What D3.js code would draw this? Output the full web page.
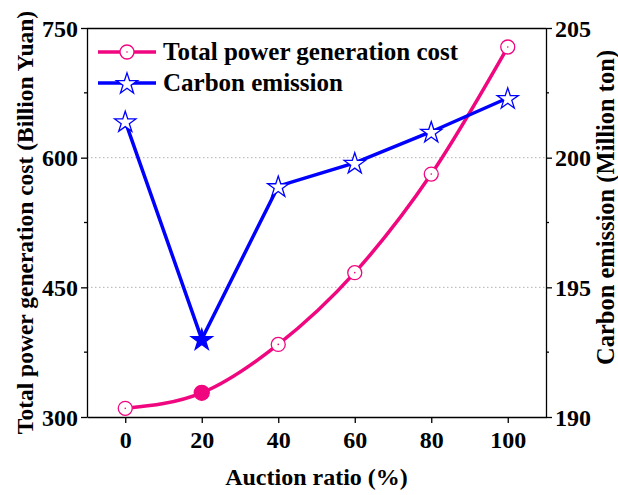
<!DOCTYPE html>
<html>
<head>
<meta charset="utf-8">
<script src="https://cdn.jsdelivr.net/npm/d3@7"></script>
<style>
  html, body { margin: 0; padding: 0; background: #fff; }
  svg { display: block; }
  text { font-family: "Liberation Serif", "Times New Roman", serif; font-weight: bold; fill: #000; }
</style>
</head>
<body>
<svg id="chart" width="618" height="495"></svg>
<script>
// Auction ratio on the x axis (%)
const auctionRatio = [0, 20, 40, 60, 80, 100];
// Total power generation cost (Billion Yuan)
const totalCost = [310, 328, 384, 467, 581, 728];
// Carbon emission (Million ton)
const carbonEmission = [201.4, 193.0, 198.9, 199.8, 201.0, 202.3];
// Index of the highlighted (filled) point in each series
const highlightIndex = 1;

const xTicks = [0, 20, 40, 60, 80, 100];
const leftTicks = [300, 450, 600, 750];
const leftMinor = [375, 525, 675];
const rightTicks = [190, 195, 200, 205];
const rightMinor = [192.5, 197.5, 202.5];

const costColor = "#f0067f";
const carbonColor = "#0000ff";

const svg = d3.select("#chart");
const m = { left: 87, right: 546, top: 28, bottom: 417 };

const x = d3.scaleLinear().domain([-10, 110]).range([m.left, m.right]);
const yL = d3.scaleLinear().domain([300, 750]).range([m.bottom, m.top]);
const yR = d3.scaleLinear().domain([190, 205]).range([m.bottom, m.top]);

// dotted grid lines at the inner major ticks
svg.append("g")
  .selectAll("line")
  .data([450, 600])
  .join("line")
  .attr("x1", m.left).attr("x2", m.right)
  .attr("y1", d => yL(d)).attr("y2", d => yL(d))
  .attr("stroke", "#b0b0b0")
  .attr("stroke-width", 1)
  .attr("stroke-dasharray", "1.5,2.5");

// frame top
svg.append("line")
  .attr("x1", m.left).attr("x2", m.right)
  .attr("y1", m.top + 0.5).attr("y2", m.top + 0.5)
  .attr("stroke", "#000").attr("stroke-width", 1.3);

function styleAxis(g) {
  g.selectAll(".domain").attr("stroke", "#000").attr("stroke-width", 1.3);
  g.selectAll(".tick line").attr("stroke", "#000").attr("stroke-width", 1.3);
  g.selectAll(".tick text").style("font-size", "24px").style("font-weight", "bold")
    .style("font-family", '"Liberation Serif", "Times New Roman", serif');
}

// x axis
const gx = svg.append("g")
  .attr("transform", `translate(0,${m.bottom})`)
  .call(d3.axisBottom(x).tickValues(xTicks).tickSize(6).tickSizeOuter(0).tickPadding(6));
styleAxis(gx);
gx.selectAll(".tick text").attr("dy", "0.8em");

// left axis
const gl = svg.append("g")
  .attr("transform", `translate(${m.left},0)`)
  .call(d3.axisLeft(yL).tickValues(leftTicks).tickSize(6).tickSizeOuter(0).tickPadding(3));
styleAxis(gl);
gl.selectAll(".tick text").attr("dy", "0.34em");
svg.append("g")
  .selectAll("line").data(leftMinor).join("line")
  .attr("x1", m.left - 3).attr("x2", m.left)
  .attr("y1", d => yL(d)).attr("y2", d => yL(d))
  .attr("stroke", "#000").attr("stroke-width", 1.3);

// right axis
const gr = svg.append("g")
  .attr("transform", `translate(${m.right},0)`)
  .call(d3.axisRight(yR).tickValues(rightTicks).tickSize(6).tickSizeOuter(0).tickPadding(3));
styleAxis(gr);
gr.selectAll(".tick text").attr("dy", "0.34em");
svg.append("g")
  .selectAll("line").data(rightMinor).join("line")
  .attr("x1", m.right).attr("x2", m.right + 3)
  .attr("y1", d => yR(d)).attr("y2", d => yR(d))
  .attr("stroke", "#000").attr("stroke-width", 1.3);

// axis titles
svg.append("text")
  .attr("x", (m.left + m.right) / 2).attr("y", 485)
  .attr("text-anchor", "middle")
  .style("font-size", "24px")
  .text("Auction ratio (%)");

svg.append("text")
  .attr("transform", `translate(33,${(m.top + m.bottom) / 2}) rotate(-90)`)
  .attr("text-anchor", "middle")
  .style("font-size", "23.5px")
  .text("Total power generation cost (Billion Yuan)");

svg.append("text")
  .attr("transform", `translate(614,${(m.top + m.bottom) / 2 - 15}) rotate(-90)`)
  .attr("text-anchor", "middle")
  .style("font-size", "24.5px")
  .text("Carbon emission (Million ton)");

// series lines
const costData = auctionRatio.map((a, i) => ({ a, v: totalCost[i], i }));
const carbonData = auctionRatio.map((a, i) => ({ a, v: carbonEmission[i], i }));

svg.append("path")
  .datum(costData)
  .attr("fill", "none")
  .attr("stroke", costColor)
  .attr("stroke-width", 3.5)
  .attr("d", d3.line().x(d => x(d.a)).y(d => yL(d.v)).curve(d3.curveMonotoneX));

svg.append("path")
  .datum(carbonData)
  .attr("fill", "none")
  .attr("stroke", carbonColor)
  .attr("stroke-width", 3.5)
  .attr("d", d3.line().x(d => x(d.a)).y(d => yR(d.v)));

const star = d3.symbol().type(d3.symbolStar).size(140);

function drawCircleMarker(g, cx, cy, filled) {
  g.append("circle")
    .attr("cx", cx).attr("cy", cy).attr("r", filled ? 7.5 : 7)
    .attr("fill", filled ? costColor : "#fff")
    .attr("stroke", costColor).attr("stroke-width", 1.3);
  if (!filled) {
    g.append("circle").attr("cx", cx).attr("cy", cy).attr("r", 0.8).attr("fill", costColor);
  }
}
function drawStarMarker(g, cx, cy, filled) {
  g.append("path")
    .attr("d", star())
    .attr("transform", `translate(${cx},${cy + 1})`)
    .attr("fill", filled ? carbonColor : "#fff")
    .attr("stroke", carbonColor).attr("stroke-width", 1.3);
}

const markers = svg.append("g");
costData.forEach(d => drawCircleMarker(markers, x(d.a), yL(d.v), d.i === highlightIndex));
carbonData.forEach(d => drawStarMarker(markers, x(d.a), yR(d.v), d.i === highlightIndex));

// legend
const legend = svg.append("g");
const legendItems = [
  { label: "Total power generation cost", color: costColor, kind: "circle", y: 52 },
  { label: "Carbon emission", color: carbonColor, kind: "star", y: 83 }
];
legendItems.forEach(it => {
  legend.append("line")
    .attr("x1", 98).attr("x2", 156)
    .attr("y1", it.y).attr("y2", it.y)
    .attr("stroke", it.color).attr("stroke-width", 3.5);
  if (it.kind === "circle") drawCircleMarker(legend, 127, it.y, false);
  else drawStarMarker(legend, 127, it.y, false);
  legend.append("text")
    .attr("x", 163).attr("y", it.y + 8)
    .style("font-size", "25px")
    .text(it.label);
});
</script>
</body>
</html>
